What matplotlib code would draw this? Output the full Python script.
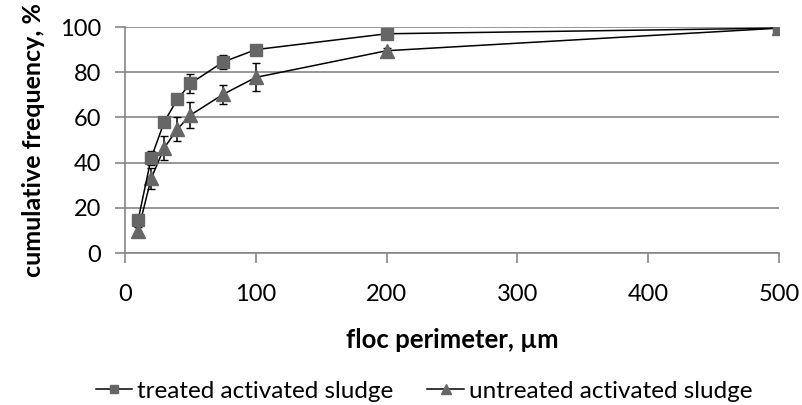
import matplotlib.pyplot as plt

plt.rcParams['font.family'] = ['Lato', 'DejaVu Sans']

perimeter = [10, 20, 30, 40, 50, 75, 100, 200, 500]
treated = [14.5, 42, 58, 68, 75, 84.5, 90, 97, 99.5]
treated_err = [1, 3, 1.5, 2, 4.3, 3.2, 1, 0.5, 0]
untreated = [9.8, 33, 46.5, 54.8, 61, 70.2, 77.7, 89.5, 99.5]
untreated_err = [1.5, 4.8, 5.4, 5.4, 5.6, 4.2, 6.2, 1, 0]

grey = '#868686'
mark = '#666666'

fig = plt.figure(figsize=(8.03, 4.05), dpi=100)
ax = fig.add_axes([125 / 803, 1 - 253 / 405, 654 / 803, 226 / 405])

un = ax.errorbar(perimeter, untreated, yerr=untreated_err, color='black', lw=1.1,
                 ecolor='black', elinewidth=1.1, capsize=2.6, marker='^', ms=10,
                 mfc=mark, mec=mark, label='untreated activated sludge', zorder=3)
tr = ax.errorbar(perimeter, treated, yerr=treated_err, color='black', lw=1.1,
                 ecolor='black', elinewidth=1.1, capsize=2.6, marker='s', ms=8.3,
                 mfc=mark, mec=mark, label='treated activated sludge', zorder=4)

ax.set_xlim(0, 500)
ax.set_ylim(0, 100)
ax.set_xticks(range(0, 501, 100))
ax.set_yticks(range(0, 101, 20))
ax.grid(axis='y', color=grey, lw=1.2)
ax.set_axisbelow(True)
for s in ['top', 'right']:
    ax.spines[s].set_visible(False)
for s in ['left', 'bottom']:
    ax.spines[s].set_color(grey)
    ax.spines[s].set_linewidth(1.2)
ax.tick_params(colors=grey, labelcolor='black', labelsize=17, length=7, width=1.2)
ax.tick_params(axis='x', pad=15)
ax.tick_params(axis='y', pad=10)

ax.set_xlabel('floc perimeter, µm', fontsize=18.5, fontweight='bold', labelpad=17)
ax.set_ylabel('cumulative frequency, %', fontsize=18, fontweight='bold', labelpad=11)

fig.legend([tr[0], un[0]], ['treated activated sludge', 'untreated activated sludge'],
           loc='center', bbox_to_anchor=(0.528, 1 - 391 / 405),
           ncol=2, frameon=False, fontsize=17.5, handlelength=1.5, handletextpad=0.2,
           columnspacing=1.4, markerscale=0.75)

fig.savefig('out.png', dpi=100)
